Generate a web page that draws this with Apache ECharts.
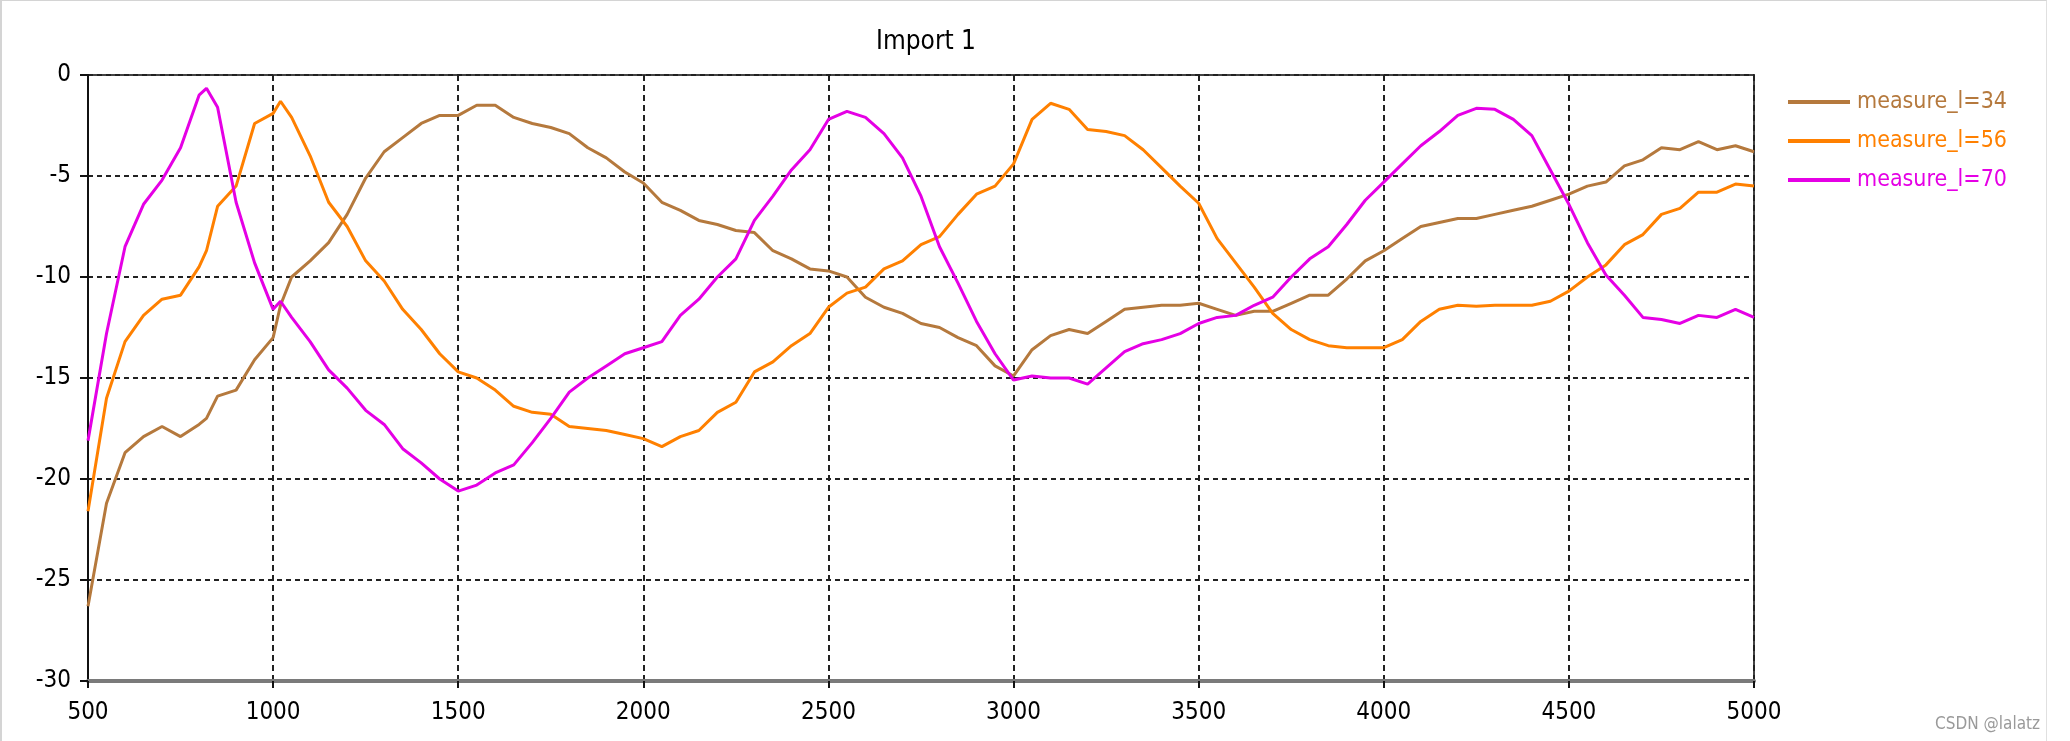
<!DOCTYPE html>
<html>
<head>
<meta charset="utf-8">
<script src="https://cdn.jsdelivr.net/npm/echarts@6/dist/echarts.min.js"></script>
<style>
html,body{margin:0;padding:0;background:#fff;}
#frame{position:absolute;left:0;top:0;width:2047px;height:741px;border-top:1px solid #d4d4d4;border-left:2px solid #d4d4d4;border-right:1px solid #e0e0e0;box-sizing:border-box;pointer-events:none;}
#chart{width:2070px;height:741px;}
</style>
</head>
<body>
<div id="chart"></div>
<div id="frame"></div>
<script>
const titleText = 'Import 1';
const seriesNames = ['measure_l=34', 'measure_l=56', 'measure_l=70'];
const xValues = [500,550,600,650,700,750,800,820,850,900,950,1000,1020,1050,1100,1150,1200,1250,1300,1350,1400,1450,1500,1550,1600,1650,1700,1750,1800,1850,1900,1950,2000,2050,2100,2150,2200,2250,2300,2350,2400,2450,2500,2550,2600,2650,2700,2750,2800,2850,2900,2950,3000,3050,3100,3150,3200,3250,3300,3350,3400,3450,3500,3550,3600,3650,3700,3750,3800,3850,3900,3950,4000,4050,4100,4150,4200,4250,4300,4350,4400,4450,4500,4550,4600,4650,4700,4750,4800,4850,4900,4950,5000];
const measure34 = [-26.3,-21.2,-18.7,-17.9,-17.4,-17.9,-17.3,-17.0,-15.9,-15.6,-14.1,-13.0,-11.4,-10.0,-9.2,-8.3,-6.9,-5.1,-3.8,-3.1,-2.4,-2.0,-2.0,-1.5,-1.5,-2.1,-2.4,-2.6,-2.9,-3.6,-4.1,-4.8,-5.35,-6.3,-6.7,-7.2,-7.4,-7.7,-7.8,-8.7,-9.1,-9.6,-9.7,-10.0,-11.0,-11.5,-11.8,-12.3,-12.5,-13.0,-13.4,-14.4,-14.9,-13.6,-12.9,-12.6,-12.8,-12.2,-11.6,-11.5,-11.4,-11.4,-11.3,-11.6,-11.9,-11.7,-11.7,-11.3,-10.9,-10.9,-10.1,-9.2,-8.7,-8.1,-7.5,-7.3,-7.1,-7.1,-6.9,-6.7,-6.5,-6.2,-5.9,-5.5,-5.3,-4.5,-4.2,-3.6,-3.7,-3.3,-3.7,-3.5,-3.8];
const measure56 = [-21.6,-16.0,-13.2,-11.9,-11.1,-10.9,-9.5,-8.7,-6.5,-5.5,-2.4,-1.9,-1.3,-2.1,-4.0,-6.3,-7.5,-9.2,-10.2,-11.6,-12.6,-13.8,-14.7,-15.0,-15.6,-16.4,-16.7,-16.8,-17.4,-17.5,-17.6,-17.8,-18.0,-18.4,-17.9,-17.6,-16.7,-16.2,-14.7,-14.2,-13.4,-12.8,-11.5,-10.8,-10.5,-9.6,-9.2,-8.4,-8.0,-6.9,-5.9,-5.5,-4.4,-2.2,-1.4,-1.7,-2.7,-2.8,-3.0,-3.7,-4.6,-5.5,-6.35,-8.1,-9.3,-10.5,-11.8,-12.6,-13.1,-13.4,-13.5,-13.5,-13.5,-13.1,-12.2,-11.6,-11.4,-11.45,-11.4,-11.4,-11.4,-11.2,-10.7,-10.0,-9.4,-8.4,-7.9,-6.9,-6.6,-5.8,-5.8,-5.4,-5.5];
const measure70 = [-18.1,-12.8,-8.5,-6.4,-5.2,-3.6,-1.0,-0.66,-1.6,-6.3,-9.3,-11.6,-11.2,-12.0,-13.2,-14.6,-15.5,-16.6,-17.3,-18.5,-19.2,-20.0,-20.6,-20.3,-19.7,-19.3,-18.2,-17.0,-15.7,-15.0,-14.4,-13.8,-13.5,-13.2,-11.9,-11.1,-10.0,-9.1,-7.2,-6.0,-4.7,-3.7,-2.2,-1.8,-2.1,-2.9,-4.1,-6.0,-8.5,-10.3,-12.2,-13.8,-15.1,-14.9,-15.0,-15.0,-15.3,-14.5,-13.7,-13.3,-13.1,-12.8,-12.3,-12.0,-11.9,-11.4,-11.0,-10.0,-9.1,-8.5,-7.4,-6.2,-5.3,-4.4,-3.5,-2.8,-2.0,-1.65,-1.7,-2.2,-3.0,-4.7,-6.4,-8.3,-9.9,-10.9,-12.0,-12.1,-12.3,-11.9,-12.0,-11.6,-12.0];
const seriesColors = ['#B5793D', '#FF8000', '#E500E5'];
const watermark = 'CSDN @lalatz';

const FONT = 'Tahoma, "DejaVu Sans Condensed", "DejaVu Sans", sans-serif';
const allValues = [measure34, measure56, measure70];

const chart = echarts.init(document.getElementById('chart'), null, {renderer: 'canvas'});
const option = {
  animation: false,
  backgroundColor: '#ffffff',
  title: {
    text: titleText,
    left: 921, top: 24,
    textAlign: 'center',
    textStyle: {fontFamily: FONT, fontSize: 26, fontWeight: 'normal', color: '#000'}
  },
  legend: {
    orient: 'vertical',
    left: 1783, top: 85,
    icon: 'rect',
    itemWidth: 62, itemHeight: 4,
    itemGap: 15,
    data: seriesNames.map((n, i) => ({name: n, textStyle: {color: seriesColors[i]}})),
    textStyle: {fontFamily: FONT, fontSize: 23, lineHeight: 24, padding: [0,0,0,2]}
  },
  grid: {
    left: 88, right: 316, top: 75, bottom: 60,
    show: true, borderColor: '#444', borderWidth: 2, backgroundColor: '#fff'
  },
  xAxis: {
    type: 'value', min: 500, max: 5000, interval: 500,
    axisLine: {show: true, onZero: false, lineStyle: {color: '#7a7a7a', width: 4}},
    axisTick: {show: true, length: 7, lineStyle: {color: '#111', width: 2}},
    axisLabel: {fontFamily: FONT, fontSize: 24, color: '#000', margin: 20, formatter: v => String(v)},
    splitLine: {show: true, lineStyle: {color: '#222', width: 2, type: [6, 4]}}
  },
  yAxis: {
    type: 'value', min: -30, max: 0, interval: 5,
    axisLine: {show: true, onZero: false, lineStyle: {color: '#111', width: 2}},
    axisTick: {show: true, length: 8, lineStyle: {color: '#111', width: 2}},
    axisLabel: {fontFamily: FONT, fontSize: 24, color: '#000', margin: 17, formatter: v => String(v)},
    splitLine: {show: true, lineStyle: {color: '#222', width: 2, type: [5, 4]}}
  },
  series: seriesNames.map((n, i) => ({
    name: n, type: 'line', showSymbol: false, symbol: 'none',
    data: xValues.map((x, k) => [x, allValues[i][k]]),
    lineStyle: {color: seriesColors[i], width: 3},
    itemStyle: {color: seriesColors[i]}
  })),
  graphic: [{
    type: 'text', left: 1935, top: 716,
    style: {text: watermark, fill: '#9a9a9a', font: '17px ' + FONT}
  }]
};
chart.setOption(option);
</script>
</body>
</html>
